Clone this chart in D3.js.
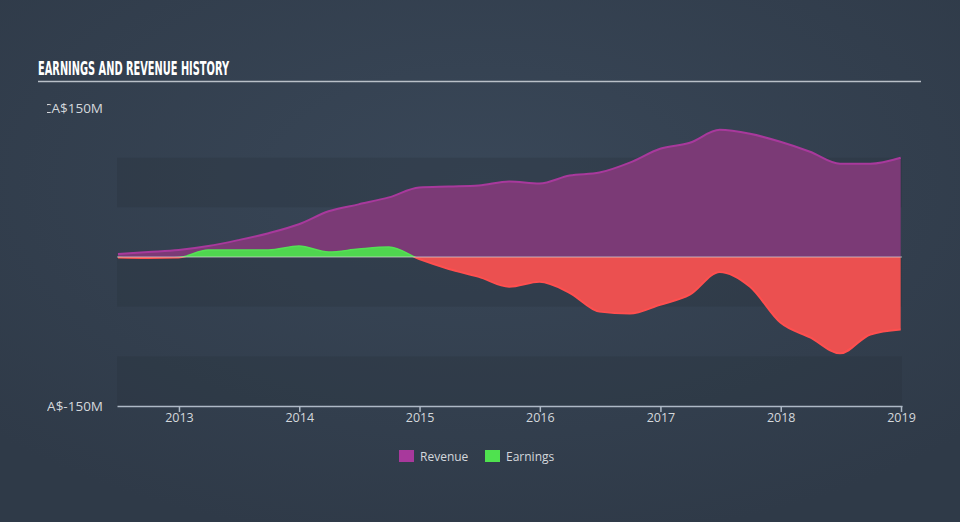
<!DOCTYPE html>
<html><head><meta charset="utf-8">
<script src="https://cdn.jsdelivr.net/npm/d3@7"></script>
<style>html,body{margin:0;padding:0;background:#333f4e;}svg{display:block;}</style>
</head><body>
<svg id="c" width="960" height="522"></svg>
<script>
const dates = ["2012-06-30","2012-09-30","2012-12-31","2013-03-31","2013-06-30","2013-09-30","2013-12-31",
"2014-03-31","2014-06-30","2014-09-30","2014-12-31","2015-03-31","2015-06-30","2015-09-30","2015-12-31",
"2016-03-31","2016-06-30","2016-09-30","2016-12-31","2017-03-31","2017-06-30","2017-09-30","2017-12-31",
"2018-03-31","2018-06-30","2018-09-30","2018-12-31"];
const revenue = [3,5,7,11,17,24,33,46,53,60,70,71,72,76,74,82,85,95,109,115,128,124,116,106,94,94,100];
const earnings = [-0.5,-1,-0.5,7,7,7,11,5,8,10,-2,-12,-20,-30,-25,-36,-55,-57,-48,-38,-15,-30,-66,-81,-97,-78,-73];
const yTicks = [150,-150];
const xTicks = [2013,2014,2015,2016,2017,2018,2019];
const bands = [[100,50],[0,-50],[-100,-150]];

const svg = d3.select("#c");
const W=960,H=522;
const defs = svg.append("defs");
const rg = defs.append("radialGradient").attr("id","bg").attr("cx","50%").attr("cy","35%").attr("r","70%");
rg.append("stop").attr("offset","0%").attr("stop-color","#394758");
rg.append("stop").attr("offset","100%").attr("stop-color","#2f3a48");
svg.append("rect").attr("width",W).attr("height",H).attr("fill","url(#bg)");

const parse = d3.timeParse("%Y-%m-%d");
const data = dates.map((d,i)=>({d:parse(d),r:revenue[i],e:earnings[i]}));
const x = d3.scaleTime().domain([new Date(2012,5,27),new Date(2019,0,4)]).range([117,902]);
const y = d3.scaleLinear().domain([-150,150]).range([406,108]);

// bands
svg.selectAll("rect.band").data(bands).join("rect").attr("class","band")
  .attr("x",117).attr("width",785).attr("y",d=>y(d[0])).attr("height",d=>y(d[1])-y(d[0]))
  .attr("fill","#27313d").attr("opacity",0.3);

// title
svg.append("text").attr("x",38).attr("y",75).text("EARNINGS AND REVENUE HISTORY")
  .attr("font-family","'Liberation Sans Narrow','DejaVu Sans Condensed',sans-serif").attr("font-weight","bold")
  .attr("font-size",19).attr("fill","#ffffff").attr("textLength",191).attr("lengthAdjust","spacingAndGlyphs");
svg.append("line").attr("x1",38).attr("x2",921).attr("y1",81.5).attr("y2",81.5).attr("stroke","#b9c0c8").attr("stroke-width",1.5);

const curve = d3.curveMonotoneX;
// revenue
svg.append("path").datum(data).attr("d",d3.area().x(d=>x(d.d)).y0(y(0)).y1(d=>y(d.r)).curve(curve))
  .attr("fill","#7b3a76");
svg.append("path").datum(data).attr("d",d3.line().x(d=>x(d.d)).y(d=>y(d.r)).curve(curve))
  .attr("fill","none").attr("stroke","#a8399c").attr("stroke-width",2);

// earnings with clip
defs.append("clipPath").attr("id","pos").append("rect").attr("x",0).attr("y",0).attr("width",W).attr("height",y(0));
defs.append("clipPath").attr("id","neg").append("rect").attr("x",0).attr("y",y(0)).attr("width",W).attr("height",H);
const eArea = d3.area().x(d=>x(d.d)).y0(y(0)).y1(d=>y(d.e)).curve(curve);
const eLine = d3.line().x(d=>x(d.d)).y(d=>y(d.e)).curve(curve);
svg.append("path").datum(data).attr("d",eArea).attr("fill","#4fd64f").attr("clip-path","url(#pos)");
svg.append("path").datum(data).attr("d",eArea).attr("fill","#eb5050").attr("clip-path","url(#neg)");
svg.append("path").datum(data).attr("d",eLine).attr("fill","none").attr("stroke","#ff4f4f").attr("stroke-width",2).attr("clip-path","url(#neg)");
svg.append("path").datum(data).attr("d",eLine).attr("fill","none").attr("stroke","#55e055").attr("stroke-width",1.5).attr("clip-path","url(#pos)");

// zero line
svg.append("line").attr("x1",117).attr("x2",902).attr("y1",y(0)).attr("y2",y(0)).attr("stroke","#d9dcd9").attr("stroke-width",1).attr("opacity",0.7);

// y labels clipped
defs.append("clipPath").attr("id","yl").append("rect").attr("x",47).attr("y",0).attr("width",100).attr("height",H);
svg.append("g").attr("clip-path","url(#yl)").selectAll("text").data(yTicks).join("text")
  .attr("x",103).attr("y",d=>y(d)+4.5).attr("text-anchor","end")
  .attr("font-family","'Open Sans',sans-serif").attr("font-size",13.5).attr("fill","#d4d8dc")
  .text(d=>"CA$"+d+"M");

// x axis
const xa = svg.append("g").attr("transform",`translate(0,${y(-150)})`)
  .call(d3.axisBottom(x).tickValues(xTicks.map(t=>new Date(t,0,1))).tickFormat(d3.timeFormat("%Y")).tickSize(6).tickSizeOuter(0));
xa.select(".domain").attr("stroke","#aeb9c6").attr("stroke-width",1.5);
xa.selectAll(".tick line").attr("stroke","#aeb9c6").attr("stroke-width",1.5);
xa.selectAll(".tick text").attr("fill","#d4d8dc").attr("font-family","'Open Sans',sans-serif").attr("font-size",12.5).attr("dy","0.55em");

// legend
const leg = [{n:"Revenue",c:"#a8399c",x:399},{n:"Earnings",c:"#4fe24f",x:485}];
const lg = svg.append("g");
lg.selectAll("rect").data(leg).join("rect").attr("x",d=>d.x).attr("y",450).attr("width",15).attr("height",12).attr("fill",d=>d.c);
lg.selectAll("text").data(leg).join("text").attr("x",d=>d.x+21).attr("y",460.5).text(d=>d.n)
  .attr("font-family","'Open Sans',sans-serif").attr("font-size",12).attr("fill","#d4d8dc");
</script>
</body></html>
